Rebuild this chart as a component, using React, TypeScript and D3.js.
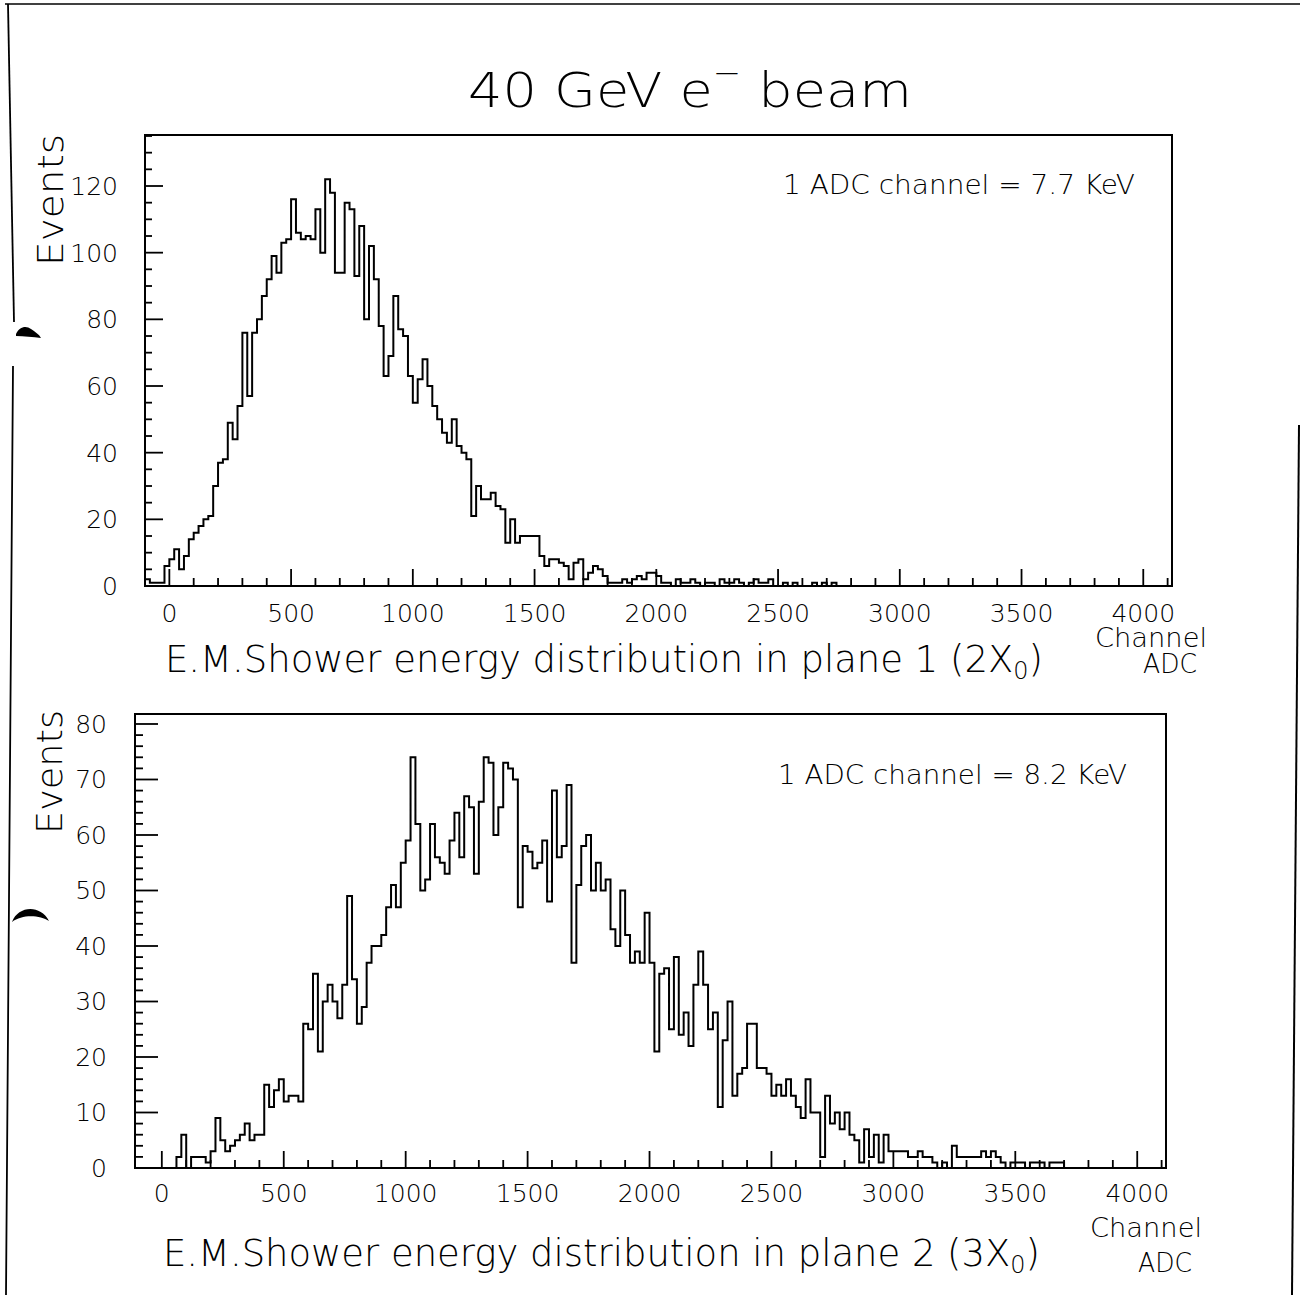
import React from "react";
import * as d3 from "d3";

// Histogram binning (ADC channels)
const BIN_START = -100;
const BIN_WIDTH = 20;

// Plane 1 (2 X0) event counts per 20-channel bin, starting at channel -100
const plane1Counts = [
  2, 1, 1, 1, 6, 8, 11, 5, 9, 14, 16, 18, 20, 21, 30, 37, 38, 49, 44, 54,
  76, 57, 76, 80, 87, 92, 99, 94, 103, 104, 116, 106, 104, 105, 104, 113, 100,
  122, 118, 94, 94, 115, 113, 93, 108, 80, 102, 92, 78, 63, 69, 87, 77, 75, 63,
  55, 62, 68, 60, 54, 50, 46, 43, 50, 42, 40, 38, 21,
  30, 26, 26, 28, 24, 23, 13, 20, 13, 15, 15, 15, 15, 9, 6, 8, 8, 7, 6, 2, 7,
  8, 2, 4, 6, 5, 3, 1,
  1, 1, 2, 1, 2, 3, 2, 4, 4, 3, 1,
  1, 0, 2, 1, 1, 2, 1, 0, 1, 1, 0, 2, 1, 1, 2, 1, 0, 1, 2, 1, 1, 2, 0, 0, 1,
  0, 1, 0, 0, 0, 1, 0, 1, 0, 1,
];

// Plane 2 (3 X0) event counts per 20-channel bin, starting at channel -100
const plane2Counts = [
  0, 0, 0, 0, 0, 0, 0, 0,
  2, 6, 0, 2, 2, 2, 1, 3, 9, 5, 3, 4, 5, 6, 8, 5, 6, 6, 15, 11, 14, 16, 12, 13,
  13, 12,
  26, 25, 35, 21, 30, 33, 30, 27, 33, 49, 34, 26, 29, 37, 40, 40, 42, 47, 51,
  47, 55, 59, 74, 62, 50, 52, 62, 56, 55, 53, 59, 64, 56, 67, 65, 53,
  66, 74, 73, 60, 65, 73, 72, 70, 47,
  58, 57, 54, 55, 59, 48, 68, 56, 58, 69, 37, 51, 58, 60, 50, 55, 50, 52, 43,
  40, 50, 42, 37, 39, 37, 46, 37, 21, 35, 36, 25, 38, 24, 28, 22, 33, 39, 33,
  25, 28, 11, 23, 30, 13, 17, 18, 26, 26, 18, 18, 17, 13, 15, 13, 16, 13, 11,
  9, 16, 10, 10, 2, 13, 8, 10, 7, 10,
  6, 5, 1, 7, 2, 6, 1, 6, 3, 3, 3, 3, 2, 2, 3, 2, 2, 1, 0, 1, 0, 4, 2, 2, 2, 2,
  2, 3, 2, 3, 2, 1, 0, 1, 1, 1, 0, 1, 1, 1, 0, 1, 1, 1,
];

const xTickLabels = [0, 500, 1000, 1500, 2000, 2500, 3000, 3500, 4000];
const plane1YLabels = [0, 20, 40, 60, 80, 100, 120];
const plane2YLabels = [0, 10, 20, 30, 40, 50, 60, 70, 80];

const FONT = "'DejaVu Sans', 'Noto Sans', sans-serif";
const WEIGHT = 200;

type LabelProps = {
  x: number;
  y: number;
  size: number;
  len?: number;
  anchor?: "start" | "middle" | "end";
  rotate?: number;
  children: React.ReactNode;
};

function Label({ x, y, size, len, anchor = "start", rotate = 0, children }: LabelProps) {
  return (
    <text
      transform={`translate(${x},${y}) rotate(${rotate})`}
      fontSize={size}
      textAnchor={anchor}
      textLength={len}
      lengthAdjust={len ? "spacingAndGlyphs" : undefined}
      fontFamily={FONT}
      fontWeight={WEIGHT}
      fill="#000"
    >
      {children}
    </text>
  );
}

type PanelProps = {
  left: number;
  top: number;
  right: number;
  bottom: number;
  xDomain: [number, number];
  yMax: number;
  counts: number[];
  yLabels: number[];
  yMinorStep: number;
  yMajorLen: number;
  yMinorLen: number;
  xMajorLen: number;
  xMinorLen: number;
  yLabelX: number;
  xLabelBaseline: number;
};

function HistPanel(p: PanelProps) {
  const x = d3.scaleLinear().domain(p.xDomain).range([p.left, p.right]);
  const y = d3.scaleLinear().domain([0, p.yMax]).range([p.bottom, p.top]);

  // Outline of the histogram as a step path
  const pts: [number, number][] = [[BIN_START, 0]];
  p.counts.forEach((c, i) => {
    const lo = BIN_START + i * BIN_WIDTH;
    pts.push([lo, c], [lo + BIN_WIDTH, c]);
  });
  pts.push([BIN_START + p.counts.length * BIN_WIDTH, 0]);
  const outline = d3
    .line<[number, number]>()
    .x((d) => x(d[0]))
    .y((d) => y(d[1]))(pts);

  const xMinor = d3.range(0, p.xDomain[1], 100);
  const yMinor = d3.range(0, p.yMax, p.yMinorStep);
  const yMajorSet = new Set(p.yLabels);

  return (
    <g>
      <path d={outline ?? ""} fill="none" stroke="#000" strokeWidth={2} strokeLinejoin="miter" />
      {xMinor.map((v) => {
        const major = v % 500 === 0;
        return (
          <line
            key={`xt${v}`}
            x1={x(v)}
            x2={x(v)}
            y1={p.bottom}
            y2={p.bottom - (major ? p.xMajorLen : p.xMinorLen)}
            stroke="#000"
            strokeWidth={1.8}
          />
        );
      })}
      {yMinor.map((v) => {
        const major = yMajorSet.has(v);
        return (
          <line
            key={`yt${v}`}
            x1={p.left}
            x2={p.left + (major ? p.yMajorLen : p.yMinorLen)}
            y1={y(v)}
            y2={y(v)}
            stroke="#000"
            strokeWidth={1.8}
          />
        );
      })}
      <rect
        x={p.left}
        y={p.top}
        width={p.right - p.left}
        height={p.bottom - p.top}
        fill="none"
        stroke="#000"
        strokeWidth={2}
      />
      {xTickLabels.map((v) => (
        <Label key={`xl${v}`} x={x(v)} y={p.xLabelBaseline} size={25} anchor="middle">
          {v}
        </Label>
      ))}
      {p.yLabels.map((v) => (
        <Label key={`yl${v}`} x={p.yLabelX} y={y(v) + 9} size={25} anchor="end">
          {v}
        </Label>
      ))}
    </g>
  );
}

export default function App() {
  return (
    <svg
      width={1300}
      height={1295}
      viewBox="0 0 1300 1295"
      style={{ position: "absolute", left: 0, top: 0, display: "block", background: "#fff" }}
    >
      <rect x={0} y={0} width={1300} height={1295} fill="#fff" />

      {/* sheet edges */}
      <line x1={5} y1={4} x2={1300} y2={4} stroke="#000" strokeWidth={1.5} />
      <polyline points="8,4 14,322" fill="none" stroke="#000" strokeWidth={1.8} />
      <polyline points="13,366 9,900 6,1295" fill="none" stroke="#000" strokeWidth={1.8} />
      <line x1={1299} y1={425} x2={1292} y2={1295} stroke="#000" strokeWidth={2} />
      {/* binder hole marks */}
      <path d="M16,334 C19,327 26,325 31,329 C35,332 39,334 41,338 C33,337 24,336 16,336 Z" fill="#000" />
      <path d="M12,922 C18,906 40,904 49,921 C40,915 22,914 12,922 Z" fill="#000" />

      {/* title */}
      <Label x={690} y={107} size={48} len={444} anchor="middle">
        40 GeV e
        <tspan fontSize={30} dy={-24}>−</tspan>
        <tspan dy={24}> beam</tspan>
      </Label>

      <HistPanel
        left={145}
        top={135}
        right={1172}
        bottom={586}
        xDomain={[-100, 4118]}
        yMax={135.3}
        counts={plane1Counts}
        yLabels={plane1YLabels}
        yMinorStep={5}
        yMajorLen={18}
        yMinorLen={7}
        xMajorLen={17}
        xMinorLen={8}
        yLabelX={118}
        xLabelBaseline={622}
      />
      <Label x={63} y={200} size={36} len={132} anchor="middle" rotate={-90}>
        Events
      </Label>
      <Label x={783} y={194} size={27} len={352}>
        1 ADC channel = 7.7 KeV
      </Label>
      <Label x={165} y={672} size={37} len={878}>
        E.M.Shower energy distribution in plane 1 (2X
        <tspan fontSize={24} dy={7}>0</tspan>
        <tspan dy={-7}>)</tspan>
      </Label>
      <Label x={1151} y={647} size={27} len={112} anchor="middle">
        Channel
      </Label>
      <Label x={1170} y={673} size={27} len={54} anchor="middle">
        ADC
      </Label>

      <HistPanel
        left={135}
        top={714}
        right={1166}
        bottom={1168}
        xDomain={[-110, 4118]}
        yMax={81.8}
        counts={plane2Counts}
        yLabels={plane2YLabels}
        yMinorStep={2}
        yMajorLen={23}
        yMinorLen={8}
        xMajorLen={17}
        xMinorLen={8}
        yLabelX={107}
        xLabelBaseline={1202}
      />
      <Label x={62} y={772} size={36} len={124} anchor="middle" rotate={-90}>
        Events
      </Label>
      <Label x={778} y={784} size={27} len={349}>
        1 ADC channel = 8.2 KeV
      </Label>
      <Label x={163} y={1266} size={37} len={877}>
        E.M.Shower energy distribution in plane 2 (3X
        <tspan fontSize={24} dy={7}>0</tspan>
        <tspan dy={-7}>)</tspan>
      </Label>
      <Label x={1146} y={1237} size={27} len={112} anchor="middle">
        Channel
      </Label>
      <Label x={1165} y={1272} size={27} len={54} anchor="middle">
        ADC
      </Label>
    </svg>
  );
}
